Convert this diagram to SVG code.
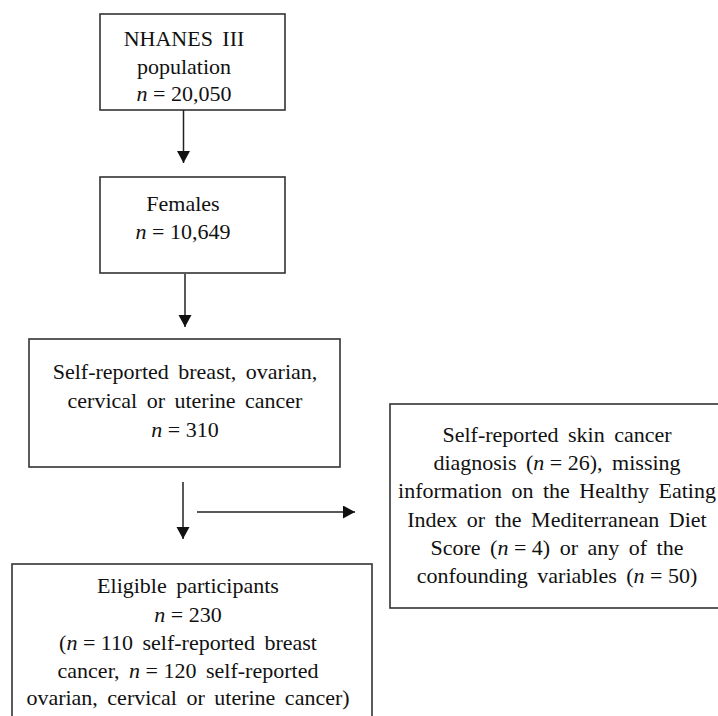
<svg xmlns="http://www.w3.org/2000/svg" width="718" height="716" viewBox="0 0 718 716">
<defs>
<style>
.box{fill:#fff;stroke:#333;stroke-width:1.6}
.t{font-family:'Liberation Serif','DejaVu Serif','Times New Roman',serif;font-size:22px;fill:#111;text-anchor:middle;word-spacing:4px}
.i{font-style:italic}
.e{word-spacing:0}
.c{stroke:#222;stroke-width:1.5;fill:none}
</style>
<marker id="ah" markerUnits="userSpaceOnUse" markerWidth="13" markerHeight="14" refX="12" refY="6.5" orient="auto">
<path d="M0,0 L12,6.5 L0,13 z" fill="#111"/>
</marker>
</defs>
<rect width="718" height="716" fill="#fff"/>
<g id="n1">
<rect class="box" x="100" y="14" width="185" height="96"/>
<text class="t" x="184" y="46">NHANES III</text>
<text class="t" x="184" y="74">population</text>
<text class="t e" x="184" y="101"><tspan class="i">n</tspan> = 20,050</text>
</g>
<g id="n2">
<rect class="box" x="100" y="177" width="185" height="96"/>
<text class="t" x="183" y="211">Females</text>
<text class="t e" x="183" y="239"><tspan class="i">n</tspan> = 10,649</text>
</g>
<g id="n3">
<rect class="box" x="29" y="339" width="311" height="128"/>
<text class="t" x="185" y="379">Self-reported breast, ovarian,</text>
<text class="t" x="185" y="408">cervical or uterine cancer</text>
<text class="t e" x="185" y="437"><tspan class="i">n</tspan> = 310</text>
</g>
<g id="n4">
<rect class="box" x="12" y="564" width="360" height="170"/>
<text class="t" x="188" y="593">Eligible participants</text>
<text class="t e" x="188" y="622"><tspan class="i">n</tspan> = 230</text>
<text class="t" x="188" y="650">(<tspan class="i">n</tspan><tspan class="e"> = </tspan>110 self-reported breast</text>
<text class="t" x="188" y="678">cancer, <tspan class="i">n</tspan><tspan class="e"> = </tspan>120 self-reported</text>
<text class="t" x="188" y="705">ovarian, cervical or uterine cancer)</text>
</g>
<g id="n5">
<rect class="box" x="390" y="404" width="340" height="204"/>
<text class="t" x="557" y="442">Self-reported skin cancer</text>
<text class="t" x="557" y="470">diagnosis (<tspan class="i">n</tspan><tspan class="e"> = </tspan>26), missing</text>
<text class="t" x="557" y="498">information on the Healthy Eating</text>
<text class="t" x="557" y="527">Index or the Mediterranean Diet</text>
<text class="t" x="557" y="555">Score (<tspan class="i">n</tspan><tspan class="e"> = </tspan>4) or any of the</text>
<text class="t" x="557" y="583">confounding variables (<tspan class="i">n</tspan><tspan class="e"> = </tspan>50)</text>
</g>
<g id="connectors">
<line class="c" x1="183.5" y1="110" x2="183.5" y2="163" marker-end="url(#ah)"/>
<line class="c" x1="185" y1="274" x2="185" y2="327" marker-end="url(#ah)"/>
<line class="c" x1="183" y1="482" x2="183" y2="539" marker-end="url(#ah)"/>
<line class="c" x1="197" y1="512" x2="355" y2="512" marker-end="url(#ah)"/>
</g>
</svg>
